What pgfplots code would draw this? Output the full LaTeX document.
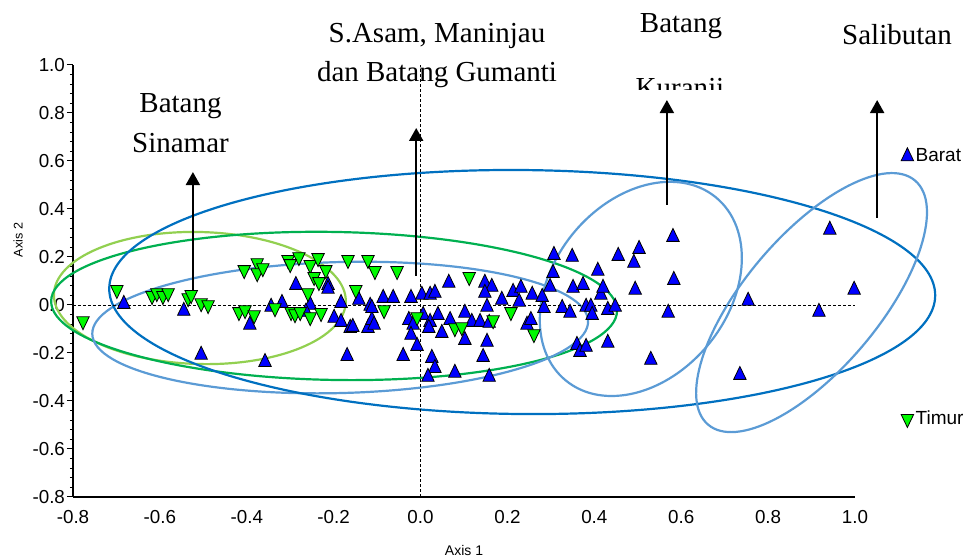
\documentclass[border=0pt]{standalone}
\usepackage{fontspec}
\setmainfont{Liberation Sans}
\newfontfamily\timesf{Liberation Serif}
\usepackage{pgfplots}
\pgfplotsset{compat=1.18}
\usetikzlibrary{arrows.meta}
\definecolor{darkblueE}{RGB}{0,112,192}
\definecolor{lightblueE}{RGB}{91,155,213}
\definecolor{greenE}{RGB}{0,176,80}
\definecolor{lightgreenE}{RGB}{146,208,80}
\definecolor{baratblue}{RGB}{0,0,255}
\definecolor{timurgreen}{RGB}{0,250,0}
\pgfplotstableread{
x y
-0.683 0.004
-0.545 -0.025
-0.505 -0.208
-0.358 -0.238
-0.393 -0.083
-0.344 -0.008
-0.319 0.008
-0.287 0.083
-0.254 0.000
-0.264 -0.029
-0.213 0.083
-0.213 0.067
-0.183 0.008
-0.199 -0.054
-0.183 -0.071
-0.162 -0.096
-0.156 -0.092
-0.142 0.021
-0.121 -0.096
-0.116 -0.004
-0.112 -0.063
-0.169 -0.213
-0.107 -0.083
-0.086 0.029
-0.063 0.029
-0.022 0.029
0.003 0.042
0.022 0.042
0.033 0.050
-0.112 -0.013
-0.027 -0.063
-0.017 -0.083
-0.022 -0.125
-0.008 -0.171
-0.040 -0.213
0.006 -0.042
0.022 -0.071
0.019 -0.096
0.040 -0.042
0.049 -0.117
0.026 -0.221
0.033 -0.263
0.017 -0.300
0.079 -0.283
0.065 0.092
0.068 -0.063
0.102 -0.033
0.102 -0.146
0.118 -0.071
0.137 -0.071
0.158 -0.075
0.153 -0.008
0.148 0.092
0.164 0.075
0.148 0.050
0.153 -0.154
0.144 -0.217
0.158 -0.300
0.187 0.021
0.213 0.054
0.231 0.071
0.227 0.013
0.245 -0.083
0.257 0.042
0.254 -0.063
0.284 -0.013
0.280 0.033
0.298 0.075
0.305 0.133
0.307 0.208
0.349 0.200
0.351 0.071
0.374 0.083
0.326 -0.013
0.344 -0.033
0.360 -0.167
0.367 -0.196
0.381 -0.175
0.381 -0.008
0.392 -0.008
0.395 -0.042
0.408 0.142
0.415 0.042
0.420 0.071
0.431 -0.021
0.448 -0.008
0.431 -0.158
0.455 0.204
0.491 0.175
0.503 0.233
0.494 0.063
0.530 -0.229
0.570 -0.033
0.581 0.283
0.583 0.104
0.754 0.017
0.735 -0.292
0.917 -0.029
0.942 0.313
0.998 0.063
}\barat
\pgfplotstableread{
x y
-0.777 -0.067
-0.699 0.063
-0.618 0.038
-0.607 0.050
-0.593 0.038
-0.581 0.050
-0.535 0.029
-0.528 0.042
-0.505 0.008
-0.489 0.000
-0.406 0.146
-0.376 0.175
-0.376 0.133
-0.363 0.154
-0.305 0.188
-0.280 0.200
-0.300 0.171
-0.254 0.167
-0.245 0.117
-0.234 0.096
-0.236 0.196
-0.218 0.146
-0.167 0.188
-0.121 0.188
-0.149 0.063
-0.259 0.050
-0.418 -0.029
-0.404 -0.021
-0.383 -0.042
-0.335 -0.013
-0.298 -0.029
-0.289 -0.038
-0.277 -0.029
-0.254 -0.050
-0.229 -0.033
-0.105 0.142
-0.054 0.142
0.112 0.117
-0.084 -0.021
-0.008 -0.050
0.079 -0.096
0.095 -0.092
0.167 -0.063
0.208 -0.029
0.261 -0.121
}\timur
\begin{document}
\begin{tikzpicture}
\path[use as bounding box] (-36.5pt,-31.5pt) rectangle (448pt,248.5pt);
\begin{axis}[
  at={(0pt,0pt)}, anchor=south west,
  scale only axis, width=391pt, height=216pt,
  xmin=-0.8, xmax=1.0, ymin=-0.8, ymax=1.0,
  clip=false,
  axis x line*=bottom, axis y line*=left,
  axis line style={line width=0.6pt,-},
  xtick={-0.8,-0.6,-0.4,-0.2,0,0.2,0.4,0.6,0.8,1.0},
  ytick={-0.8,-0.6,-0.4,-0.2,0,0.2,0.4,0.6,0.8,1.0},
  minor y tick num=4,
  xtick style={draw=none},
  tick align=outside,
  major tick length=3pt, minor tick length=1.6pt,
  ytick style={line width=0.5pt, black},
  minor y tick style={line width=0.4pt, black},
  /pgf/number format/.cd, fixed, fixed zerofill, precision=1, assume math mode=true,
  /pgfplots/.cd,
  ticklabel style={font=\fontsize{9.4}{11}\selectfont},
  yticklabel style={xshift=2.5pt},
  xlabel={Axis 1}, ylabel={Axis 2},
  xlabel style={at={(axis description cs:0.5,-0.1227)}, anchor=center, font=\fontsize{7}{8}\selectfont},
  ylabel style={at={(axis description cs:-0.0703,0.595)}, anchor=center, font=\fontsize{6.3}{7}\selectfont},
  legend style={draw=none, fill=none, at={(axis description cs:1.0585,0.8125)}, anchor=north west,
    font=\fontsize{9.5}{11}\selectfont, row sep=121pt, inner sep=0pt,
    nodes={inner sep=1pt}},
  legend cell align=left,
  legend image code/.code={\draw[mark repeat=2,mark phase=2,#1] plot coordinates {(0pt,0pt)(3.5pt,0pt)(7pt,0pt)};},
]
% ellipses
\draw[lightgreenE, line width=1.1pt, rotate around={-1.5:(axis cs:-0.508,0.029)}] (axis cs:-0.508,0.029) ellipse [x radius=73pt, y radius=33pt];
\draw[greenE, line width=1.1pt, rotate around={-1:(axis cs:-0.199,-0.004)}] (axis cs:-0.199,-0.004) ellipse [x radius=141.5pt, y radius=37pt];
\draw[lightblueE, line width=1.1pt, rotate around={1.5:(axis cs:-0.185,-0.094)}] (axis cs:-0.185,-0.094) ellipse [x radius=124pt, y radius=32.75pt];
\draw[darkblueE, line width=1.1pt, rotate around={-0.5:(axis cs:0.234,0.054)}] (axis cs:0.234,0.054) ellipse [x radius=206.5pt, y radius=61pt];
\draw[lightblueE, line width=1.1pt, rotate around={50.7:(axis cs:0.507,0.067)}] (axis cs:0.507,0.067) ellipse [x radius=59.2pt, y radius=43.75pt];
\draw[lightblueE, line width=1.1pt, rotate around={49.7:(axis cs:0.900,0.010)}] (axis cs:0.900,0.010) ellipse [x radius=80pt, y radius=33.5pt];
% zero lines
\draw[black, line width=0.4pt, dash pattern=on 1.5pt off 1pt] (axis cs:-0.8,0) -- (axis cs:1.0,0);
\draw[black, line width=0.4pt, dash pattern=on 1.5pt off 1pt] (axis cs:0,-0.8) -- (axis cs:0,1.0);
% data
\addplot[only marks, mark=triangle*, mark size=3.6pt,
  mark options={fill=baratblue, draw=black, line width=0.4pt, yscale=1.2}] table[x=x,y=y] {\barat};
\addlegendentry{Barat}
\addplot[only marks, mark=triangle*, mark size=3.6pt,
  mark options={fill=timurgreen, draw=black, line width=0.4pt, rotate=180, yscale=1.2}] table[x=x,y=y] {\timur};
\addlegendentry{Timur}
% arrows
\draw[line width=1pt, -{Triangle[width=7pt,length=6.5pt]}] (axis cs:-0.524,0.0625) -- (axis cs:-0.524,0.554);
\draw[line width=1pt, -{Triangle[width=7pt,length=6.5pt]}] (axis cs:-0.010,0.121) -- (axis cs:-0.010,0.7375);
\draw[line width=1pt, -{Triangle[width=7pt,length=6.5pt]}] (axis cs:0.567,0.417) -- (axis cs:0.567,0.854);
\draw[line width=1pt, -{Triangle[width=7pt,length=6.5pt]}] (axis cs:1.051,0.3625) -- (axis cs:1.051,0.854);
\end{axis}
\begin{scope}[every node/.style={font=\timesf\fontsize{14.5}{16}\selectfont, anchor=base, inner sep=0pt}]
\node at (53.75pt,192pt) {Batang};
\node at (53.75pt,172pt) {Sinamar};
\node at (182pt,227pt) {S.Asam, Maninjau};
\node at (182pt,207.5pt) {dan Batang Gumanti};
\node at (304pt,232pt) {Batang};
\node at (412pt,226pt) {Salibutan};
\begin{scope}
\clip (250pt,203.5pt) rectangle (360pt,260pt);
\node at (303.5pt,199.5pt) {Kuranji};
\end{scope}
\end{scope}
\end{tikzpicture}
\end{document}
